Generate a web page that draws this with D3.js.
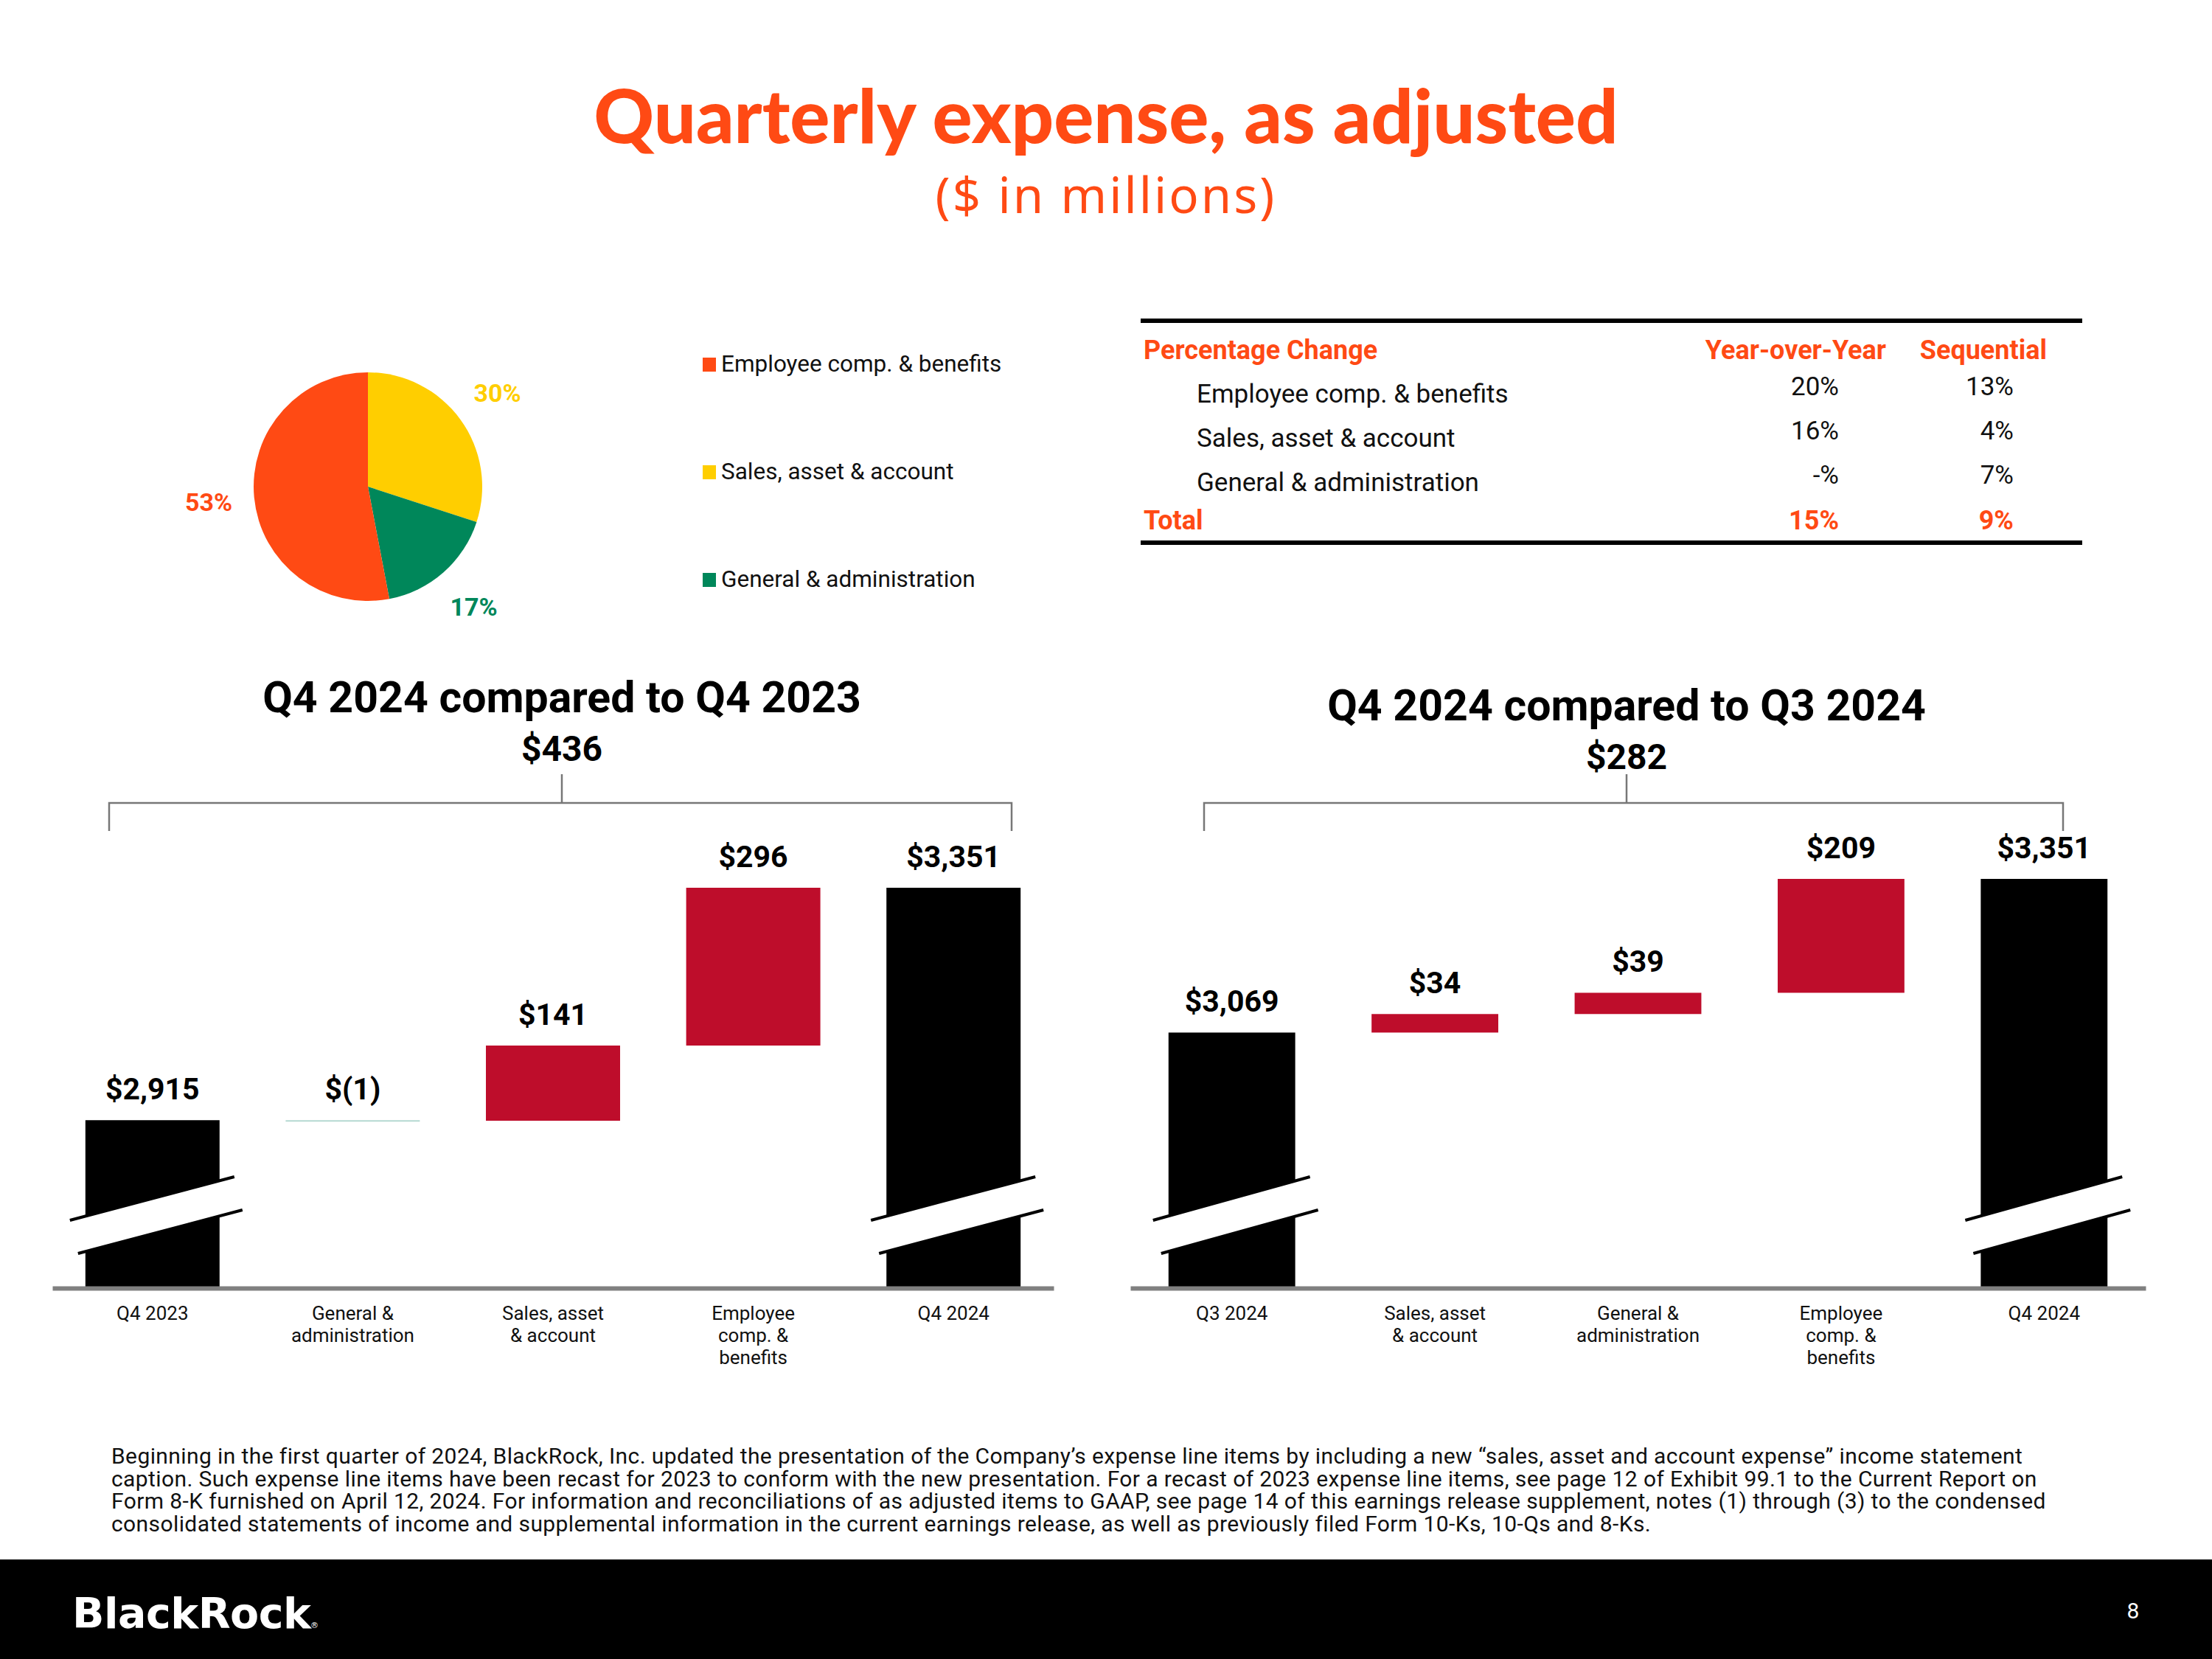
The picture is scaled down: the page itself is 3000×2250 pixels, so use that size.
<!DOCTYPE html>
<html>
<head>
<meta charset="utf-8">
<script src="https://cdn.jsdelivr.net/npm/d3@7"></script>
<style>
html, body { margin: 0; padding: 0; background: #fff; }
svg { display: block; }
</style>
</head>
<body>
<svg id="slide" width="3000" height="2250"></svg>
<script>
// share of quarterly expense (pie)
var pieCategories = ["Employee comp. & benefits", "Sales, asset & account", "General & administration"];
var pieShares = [53, 30, 17];
// order the slices are drawn, clockwise from 12 o'clock
var pieDrawOrder = ["Sales, asset & account", "General & administration", "Employee comp. & benefits"];

// percentage change table
var tableRows = ["Employee comp. & benefits", "Sales, asset & account", "General & administration"];
var yoyChange = ["20%", "16%", "-%"];
var seqChange = ["13%", "4%", "7%"];
var totalYoy = "15%";
var totalSeq = "9%";

// waterfall: Q4 2024 compared to Q4 2023
var yoyCategories = ["Q4 2023", "General & administration", "Sales, asset & account", "Employee comp. & benefits", "Q4 2024"];
var yoyTickLabels = [["Q4 2023"], ["General &", "administration"], ["Sales, asset", "& account"], ["Employee", "comp. &", "benefits"], ["Q4 2024"]];
var yoyValues = [2915, -1, 141, 296, 3351];
var yoyDiff = 436;

// waterfall: Q4 2024 compared to Q3 2024
var seqCategories = ["Q3 2024", "Sales, asset & account", "General & administration", "Employee comp. & benefits", "Q4 2024"];
var seqTickLabels = [["Q3 2024"], ["Sales, asset", "& account"], ["General &", "administration"], ["Employee", "comp. &", "benefits"], ["Q4 2024"]];
var seqValues = [3069, 34, 39, 209, 3351];
var seqDiff = 282;

var axisFloor = 2600;   // value axis is broken below this
var axisTop = 3351;

var orange = "#ff4a14", yellow = "#ffce00", green = "#00875a", red = "#be0d2b";
var sliceColor = d3.scaleOrdinal().domain(pieCategories).range([orange, yellow, green]);

var svg = d3.select("#slide");
var bold = "Roboto, 'Noto Sans', sans-serif";

// ---- header
svg.append("text")
    .attr("x", 1500).attr("y", 194)
    .attr("text-anchor", "middle")
    .style("font-family", "Lato, Roboto, sans-serif").style("font-weight", 900)
    .style("font-size", "101px").style("fill", orange)
    .text("Quarterly expense, as adjusted");
svg.append("text")
    .attr("x", 1500).attr("y", 289)
    .attr("text-anchor", "middle")
    .style("font-family", "'Noto Sans', sans-serif")
    .style("font-size", "67px").style("letter-spacing", "3px").style("fill", orange)
    .text("($ in millions)");

// ---- pie
var pie = d3.pie().sort(null).value(function(d) { return d.share; });
var pieData = pie(pieDrawOrder.map(function(c) {
    return { cat: c, share: pieShares[pieCategories.indexOf(c)] };
}));
var arc = d3.arc().innerRadius(0).outerRadius(155);
var labelArc = d3.arc().innerRadius(217).outerRadius(217);

var gPie = svg.append("g").attr("transform", "translate(499,660)");
gPie.selectAll("path")
    .data(pieData)
    .enter().append("path")
    .attr("d", arc)
    .style("fill", function(d) { return sliceColor(d.data.cat); });
gPie.selectAll("text")
    .data(pieData)
    .enter().append("text")
    .attr("transform", function(d) { return "translate(" + labelArc.centroid(d) + ")"; })
    .attr("text-anchor", "middle").attr("dy", "0.36em")
    .style("font-family", bold).style("font-weight", 700).style("font-size", "34px")
    .style("fill", function(d) { return sliceColor(d.data.cat); })
    .text(function(d) { return d.data.share + "%"; });

// legend
var legend = svg.append("g").selectAll("g")
    .data(pieCategories)
    .enter().append("g")
    .attr("transform", function(d, i) { return "translate(953," + (504 + i * 146) + ")"; });
legend.append("rect")
    .attr("x", 0).attr("y", -19).attr("width", 18).attr("height", 19)
    .style("fill", function(d) { return sliceColor(d); });
legend.append("text")
    .attr("x", 25).attr("y", 0)
    .style("font-family", bold).style("font-size", "31.5px").style("fill", "#111")
    .text(function(d) { return d; });

// ---- percentage change table
var gTable = svg.append("g");
gTable.append("line").attr("x1", 1547).attr("x2", 2824).attr("y1", 435).attr("y2", 435)
    .style("stroke", "#000").style("stroke-width", 6);
gTable.append("line").attr("x1", 1547).attr("x2", 2824).attr("y1", 736).attr("y2", 736)
    .style("stroke", "#000").style("stroke-width", 6);

function headText(x, y, anchor, t) {
    gTable.append("text").attr("x", x).attr("y", y).attr("text-anchor", anchor)
        .style("font-family", bold).style("font-weight", 700).style("font-size", "36px")
        .style("fill", orange).text(t);
}
headText(1551, 487, "start", "Percentage Change");
headText(2558, 487, "end", "Year-over-Year");
headText(2776, 487, "end", "Sequential");

var rows = gTable.selectAll("g.row")
    .data(tableRows)
    .enter().append("g").attr("class", "row");
rows.append("text")
    .attr("x", 1623).attr("y", function(d, i) { return 546 + i * 60; })
    .style("font-family", bold).style("font-size", "35px").style("fill", "#111")
    .text(function(d) { return d; });
rows.append("text")
    .attr("x", 2494).attr("y", function(d, i) { return 536 + i * 60; })
    .attr("text-anchor", "end")
    .style("font-family", bold).style("font-size", "35px").style("fill", "#111")
    .text(function(d, i) { return yoyChange[i]; });
rows.append("text")
    .attr("x", 2731).attr("y", function(d, i) { return 536 + i * 60; })
    .attr("text-anchor", "end")
    .style("font-family", bold).style("font-size", "35px").style("fill", "#111")
    .text(function(d, i) { return seqChange[i]; });
headText(1551, 718, "start", "Total");
headText(2494, 718, "end", totalYoy);
headText(2731, 718, "end", totalSeq);

// ---- waterfalls
var money = d3.format(",");
function moneyLabel(v) { return v < 0 ? "$(" + money(-v) + ")" : "$" + money(v); }

function waterfall(o) {
    var g = svg.append("g");
    var baseY = 1747;
    var n = o.categories.length;

    var x = d3.scaleBand().domain(o.categories)
        .range([o.left, o.right]).paddingInner(o.pad).paddingOuter(o.pad / 2);
    var y = d3.scaleLinear().domain([axisFloor, axisTop]).range([baseY, o.top]);

    var running = 0;
    var bars = o.values.map(function(v, i) {
        var total = (i === 0 || i === n - 1);
        var d = { cat: o.categories[i], v: v, total: total };
        if (total) { d.y0 = axisFloor; d.y1 = v; running = v; }
        else { d.y0 = running; d.y1 = running + v; running += v; }
        return d;
    });

    // titles
    g.append("text").attr("x", o.mid).attr("y", o.titleY).attr("text-anchor", "middle")
        .style("font-family", bold).style("font-weight", 700).style("font-size", "59px")
        .style("fill", "#000").text(o.title);
    g.append("text").attr("x", o.mid).attr("y", o.titleY + 66).attr("text-anchor", "middle")
        .style("font-family", bold).style("font-weight", 700).style("font-size", "48px")
        .style("fill", "#000").text(moneyLabel(o.diff));

    // bracket
    g.append("path")
        .attr("d", "M" + o.bracket[0] + ",1127V1089H" + o.bracket[1] + "V1127M" + o.mid + ",1089V1050")
        .style("fill", "none").style("stroke", "#777").style("stroke-width", 2.5);

    // bars
    g.selectAll("rect.bar")
        .data(bars)
        .enter().append("rect").attr("class", "bar")
        .attr("x", function(d) { return x(d.cat); })
        .attr("width", x.bandwidth())
        .attr("y", function(d) { return Math.min(y(d.y0), y(d.y1)); })
        .attr("height", function(d) { return Math.max(2, Math.abs(y(d.y0) - y(d.y1))); })
        .style("fill", function(d) { return d.total ? "#000" : (d.v < 0 ? "#b4d9d1" : red); });

    // break marks on the total bars
    var bw = x.bandwidth();
    var breaks = g.selectAll("g.brk")
        .data(bars.filter(function(d) { return d.total; }))
        .enter().append("g").attr("class", "brk")
        .attr("transform", function(d) { return "translate(" + x(d.cat) + "," + baseY + ")"; });
    breaks.append("path")
        .attr("d", "M-21,-92L" + (bw + 20) + ",-151L" + (bw + 31) + ",-106L-10,-47Z")
        .style("fill", "#fff");
    breaks.append("path")
        .attr("d", "M-21,-92L" + (bw + 20) + ",-151M-10,-47L" + (bw + 31) + ",-106")
        .style("fill", "none").style("stroke", "#000").style("stroke-width", 4);

    // value labels
    g.selectAll("text.val")
        .data(bars)
        .enter().append("text").attr("class", "val")
        .attr("x", function(d) { return x(d.cat) + bw / 2; })
        .attr("y", function(d) { return y(Math.max(d.y0, d.y1)) - 28; })
        .attr("text-anchor", "middle")
        .style("font-family", bold).style("font-weight", 700).style("font-size", "41px")
        .style("fill", "#000")
        .text(function(d) { return moneyLabel(d.v); });

    // category axis
    var gx = g.append("g").attr("transform", "translate(0," + baseY + ")")
        .call(d3.axisBottom(x).tickSize(0).tickSizeOuter(0).tickFormat(""));
    gx.select(".domain").style("stroke", "#808080").style("stroke-width", 6);
    gx.selectAll(".tick").append("text")
        .attr("text-anchor", "middle")
        .style("font-family", bold).style("font-size", "26px").style("fill", "#111")
        .each(function(d, i) {
            var t = d3.select(this);
            o.tickLabels[i].forEach(function(line, k) {
                t.append("tspan").attr("x", 0).attr("y", 43 + k * 30).text(line);
            });
        });
}

waterfall({
    categories: yoyCategories, values: yoyValues, tickLabels: yoyTickLabels,
    left: 71, right: 1429, pad: 0.33, top: 1204,
    title: "Q4 2024 compared to Q4 2023", diff: yoyDiff, titleY: 966, mid: 762,
    bracket: [148, 1372]
});
waterfall({
    categories: seqCategories, values: seqValues, tickLabels: seqTickLabels,
    left: 1533, right: 2910, pad: 0.376, top: 1192,
    title: "Q4 2024 compared to Q3 2024", diff: seqDiff, titleY: 977, mid: 2206,
    bracket: [1633, 2798]
});

// ---- footnote
var footnote = [
    "Beginning in the first quarter of 2024, BlackRock, Inc. updated the presentation of the Company\u2019s expense line items by including a new \u201csales, asset and account expense\u201d income statement",
    "caption. Such expense line items have been recast for 2023 to conform with the new presentation. For a recast of 2023 expense line items, see page 12 of Exhibit 99.1 to the Current Report on",
    "Form 8-K furnished on April 12, 2024. For information and reconciliations of as adjusted items to GAAP, see page 14 of this earnings release supplement, notes (1) through (3) to the condensed",
    "consolidated statements of income and supplemental information in the current earnings release, as well as previously filed Form 10-Ks, 10-Qs and 8-Ks."
];
svg.append("g").selectAll("text")
    .data(footnote)
    .enter().append("text")
    .attr("x", 151).attr("y", function(d, i) { return 1985 + i * 30.7; })
    .style("font-family", bold).style("font-size", "30px").style("letter-spacing", "0.4px")
    .style("fill", "#111")
    .text(function(d) { return d; });

// ---- footer band
svg.append("rect").attr("x", 0).attr("y", 2115).attr("width", 3000).attr("height", 135).style("fill", "#000");
svg.append("text").attr("x", 98).attr("y", 2208)
    .style("font-family", "'DejaVu Sans', sans-serif").style("font-weight", 700)
    .style("font-size", "57px").style("letter-spacing", "-0.5px").style("fill", "#fff")
    .text("BlackRock");
svg.append("text").attr("x", 421).attr("y", 2208)
    .style("font-family", "'DejaVu Sans', sans-serif").style("font-size", "11px").style("fill", "#fff")
    .text("\u00ae");
svg.append("text").attr("x", 2893).attr("y", 2195).attr("text-anchor", "middle")
    .style("font-family", bold).style("font-size", "30px").style("fill", "#fff")
    .text("8");
</script>
</body>
</html>
